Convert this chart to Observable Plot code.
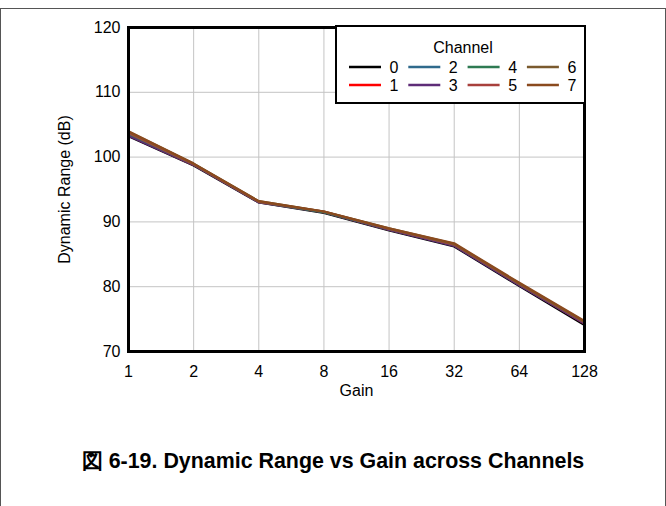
<!DOCTYPE html>
<html>
<head>
<meta charset="utf-8">
<script src="https://cdn.jsdelivr.net/npm/d3@7"></script>
<script src="https://cdn.jsdelivr.net/npm/@observablehq/plot@0.6"></script>
<style>
  html, body { margin: 0; padding: 0; background: #fff; }
  body { width: 666px; height: 506px; position: relative; overflow: hidden; font-family: "Liberation Sans", Arial, sans-serif; }
  #border { position: absolute; left: 0; top: 8px; width: 666px; height: 520px; box-sizing: border-box; border: 1px solid #555; border-bottom: none; }
  #chart { position: absolute; left: 0; top: 0; }
  #legend { position: absolute; left: 335px; top: 25px; width: 251px; height: 79px; box-sizing: border-box; border: 2px solid #000; background: #fff; }
  #caption { position: absolute; left: 0; top: 449px; width: 666px; text-align: center; font: bold 21.4px "Liberation Sans", Arial, sans-serif; line-height: 24px; color: #000; }
</style>
</head>
<body>
<div id="border"></div>
<div id="chart"></div>
<div id="legend"></div>
<div id="caption">図 6-19. Dynamic Range vs Gain across Channels</div>
<script>
const gains = [1, 2, 4, 8, 16, 32, 64, 128];
const channels = ["0", "1", "2", "3", "4", "5", "6", "7"];
const ch0 = [103.2, 98.7, 93.0, 91.4, 88.7, 86.2, 80.1, 74.1];
const ch1 = [103.4, 98.8, 93.1, 91.5, 88.8, 86.4, 80.3, 74.3];
const ch2 = [103.5, 98.8, 93.1, 91.5, 88.8, 86.4, 80.3, 74.4];
const ch3 = [103.3, 98.8, 93.0, 91.5, 88.8, 86.3, 80.2, 74.3];
const ch4 = [103.6, 98.9, 93.1, 91.5, 88.9, 86.5, 80.4, 74.5];
const ch5 = [103.7, 98.9, 93.1, 91.6, 88.9, 86.5, 80.4, 74.5];
const ch6 = [103.9, 99.0, 93.2, 91.6, 89.0, 86.6, 80.5, 74.6];
const ch7 = [104.0, 99.0, 93.2, 91.6, 89.0, 86.7, 80.6, 74.7];
const series = [ch0, ch1, ch2, ch3, ch4, ch5, ch6, ch7];
const colors = ["#000000", "#ff0000", "#2f6a8c", "#5e2c78", "#2e7a52", "#a8403c", "#7a5a2e", "#8a4a1e"];
const yTicks = [70, 80, 90, 100, 110, 120];

const data = [];
series.forEach((vals, i) => vals.forEach((v, j) => data.push({channel: channels[i], gain: gains[j], dr: v})));

const plot = Plot.plot({
  width: 666,
  height: 410,
  marginLeft: 128,
  marginRight: 82,
  marginTop: 27,
  marginBottom: 59,
  style: {fontFamily: "'Liberation Sans', Arial, sans-serif", fontSize: "16px", color: "#000", background: "transparent"},
  x: {type: "log", base: 2, domain: [1, 128]},
  y: {domain: [70, 120]},
  color: {domain: channels, range: colors},
  marks: [
    Plot.gridX(gains, {stroke: "#c4c4c4", strokeOpacity: 1, strokeWidth: 1}),
    Plot.gridY(yTicks, {stroke: "#c4c4c4", strokeOpacity: 1, strokeWidth: 1}),
    Plot.line(data, {x: "gain", y: "dr", z: "channel", stroke: "channel", strokeWidth: 2.2}),
    Plot.frame({stroke: "#000", strokeWidth: 3}),
    Plot.axisX(gains, {tickSize: 0, tickPadding: 14, tickFormat: d => String(d), label: "Gain", labelAnchor: "center", labelArrow: "none", labelOffset: 44, fontSize: 16}),
    Plot.axisY(yTicks, {tickSize: 0, tickPadding: 8, label: "Dynamic Range (dB)", labelAnchor: "center", labelArrow: "none", labelOffset: 70, fontSize: 16})
  ]
});
document.getElementById("chart").appendChild(plot);

// Legend
const lg = d3.select("#legend").append("svg").attr("width", 247).attr("height", 75)
  .style("position", "absolute").style("left", "0px").style("top", "0px")
  .style("font-family", "'Liberation Sans', Arial, sans-serif").style("font-size", "16px");
lg.append("text").attr("x", 126).attr("y", 26).attr("text-anchor", "middle").text("Channel");
channels.forEach((c, i) => {
  const col = Math.floor(i / 2), row = i % 2;
  const x0 = 12 + col * 59.3;
  const y = 40 + row * 18;
  lg.append("line").attr("x1", x0).attr("x2", x0 + 32).attr("y1", y).attr("y2", y)
    .attr("stroke", colors[i]).attr("stroke-width", 2.5);
  lg.append("text").attr("x", x0 + 45).attr("y", y + 6).attr("text-anchor", "middle").text(c);
});
</script>
</body>
</html>
